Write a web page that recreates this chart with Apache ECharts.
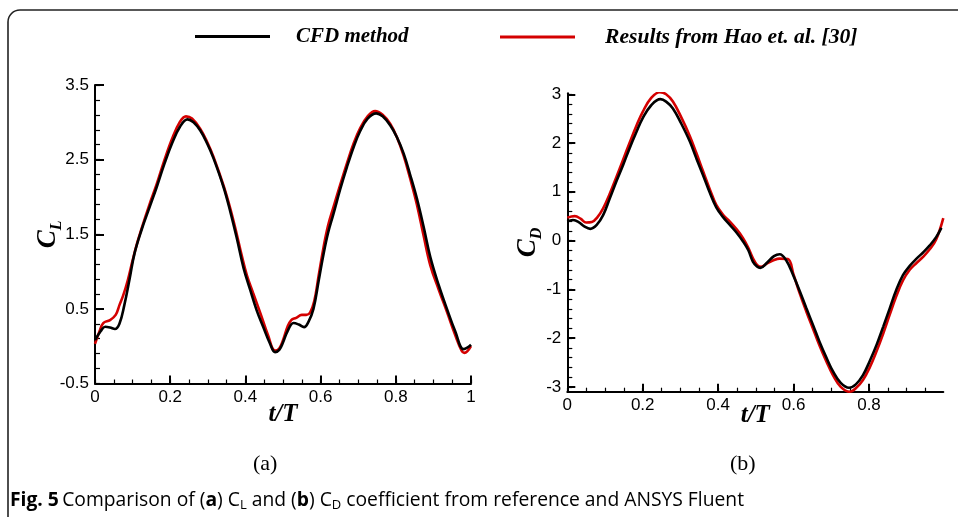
<!DOCTYPE html>
<html><head><meta charset="utf-8">
<script src="https://cdn.jsdelivr.net/npm/echarts@6/dist/echarts.min.js"></script>
<style>html,body{margin:0;padding:0;background:#fff}#c{width:958px;height:517px}</style>
</head><body><div id="c"></div>
<script>
// ---- data: [t/T, value] ----
const clCFD = [[0,0.08],[0.015,0.2],[0.027,0.26],[0.04,0.25],[0.053,0.23],[0.065,0.3],[0.078,0.55],[0.092,0.9],[0.105,1.24],[0.124,1.56],[0.145,1.86],[0.164,2.13],[0.185,2.45],[0.205,2.72],[0.226,2.94],[0.246,3.04],[0.262,3.0],[0.28,2.89],[0.298,2.72],[0.315,2.52],[0.342,2.13],[0.36,1.8],[0.377,1.45],[0.395,1.05],[0.413,0.75],[0.43,0.48],[0.448,0.25],[0.465,0.04],[0.479,-0.08],[0.49,-0.05],[0.5,0.05],[0.512,0.2],[0.528,0.31],[0.542,0.29],[0.556,0.255],[0.568,0.33],[0.581,0.5],[0.595,0.88],[0.608,1.24],[0.62,1.52],[0.634,1.77],[0.652,2.1],[0.67,2.4],[0.688,2.67],[0.705,2.88],[0.725,3.05],[0.748,3.12],[0.765,3.08],[0.785,2.96],[0.803,2.8],[0.821,2.58],[0.838,2.3],[0.856,1.98],[0.874,1.6],[0.892,1.19],[0.914,0.82],[0.936,0.5],[0.958,0.2],[0.98,-0.04],[0.99,-0.02],[1.0,0.02]];
const clHao = [[0,0.03],[0.012,0.2],[0.022,0.31],[0.04,0.35],[0.055,0.42],[0.065,0.55],[0.075,0.68],[0.087,0.88],[0.1,1.15],[0.112,1.38],[0.124,1.58],[0.145,1.9],[0.164,2.17],[0.185,2.5],[0.205,2.78],[0.225,3.0],[0.242,3.08],[0.258,3.05],[0.28,2.91],[0.298,2.74],[0.315,2.54],[0.342,2.15],[0.36,1.84],[0.377,1.5],[0.39,1.22],[0.404,0.95],[0.42,0.72],[0.44,0.44],[0.46,0.15],[0.479,-0.06],[0.49,-0.03],[0.5,0.08],[0.512,0.26],[0.522,0.35],[0.535,0.38],[0.55,0.42],[0.562,0.42],[0.572,0.45],[0.583,0.6],[0.595,0.95],[0.608,1.33],[0.62,1.62],[0.634,1.86],[0.652,2.16],[0.67,2.45],[0.688,2.72],[0.705,2.92],[0.725,3.08],[0.745,3.15],[0.765,3.1],[0.785,2.98],[0.803,2.8],[0.821,2.55],[0.838,2.25],[0.856,1.9],[0.874,1.48],[0.892,1.08],[0.914,0.76],[0.936,0.46],[0.958,0.15],[0.975,-0.06],[0.982,-0.09],[0.99,-0.07],[1.0,0.0]];
const cdCFD = [[0,0.39],[0.015,0.42],[0.03,0.38],[0.045,0.29],[0.061,0.24],[0.078,0.32],[0.095,0.52],[0.112,0.85],[0.13,1.21],[0.148,1.55],[0.165,1.89],[0.183,2.22],[0.2,2.51],[0.222,2.77],[0.247,2.9],[0.262,2.85],[0.28,2.71],[0.302,2.4],[0.325,2.03],[0.342,1.69],[0.36,1.34],[0.378,0.98],[0.395,0.68],[0.413,0.48],[0.431,0.32],[0.448,0.17],[0.466,-0.02],[0.48,-0.2],[0.492,-0.43],[0.503,-0.53],[0.512,-0.56],[0.53,-0.45],[0.548,-0.32],[0.563,-0.28],[0.58,-0.4],[0.599,-0.71],[0.617,-1.05],[0.634,-1.39],[0.652,-1.74],[0.669,-2.08],[0.687,-2.4],[0.705,-2.69],[0.725,-2.92],[0.747,-3.02],[0.765,-2.95],[0.784,-2.76],[0.802,-2.47],[0.82,-2.14],[0.838,-1.76],[0.855,-1.39],[0.872,-1.02],[0.89,-0.71],[0.908,-0.52],[0.926,-0.37],[0.944,-0.24],[0.961,-0.1],[0.978,0.07],[0.992,0.26]];
const cdHao = [[0,0.47],[0.02,0.5],[0.035,0.45],[0.05,0.37],[0.065,0.38],[0.08,0.48],[0.095,0.66],[0.112,0.95],[0.13,1.3],[0.148,1.66],[0.165,2.0],[0.183,2.35],[0.2,2.64],[0.222,2.92],[0.245,3.04],[0.262,3.0],[0.28,2.85],[0.302,2.53],[0.325,2.14],[0.342,1.8],[0.36,1.42],[0.378,1.05],[0.395,0.73],[0.413,0.53],[0.431,0.39],[0.448,0.24],[0.466,0.05],[0.48,-0.15],[0.492,-0.36],[0.503,-0.5],[0.514,-0.54],[0.53,-0.47],[0.548,-0.4],[0.563,-0.37],[0.585,-0.38],[0.6,-0.7],[0.617,-1.1],[0.634,-1.46],[0.652,-1.82],[0.669,-2.16],[0.687,-2.48],[0.705,-2.77],[0.725,-3.0],[0.749,-3.1],[0.765,-3.03],[0.784,-2.86],[0.802,-2.6],[0.82,-2.27],[0.838,-1.9],[0.855,-1.52],[0.872,-1.15],[0.89,-0.82],[0.908,-0.6],[0.926,-0.46],[0.944,-0.33],[0.961,-0.18],[0.978,0.02],[0.997,0.46]];

// ---- tick labels ----
const xTicksA = [0,0.2,0.4,0.6,0.8,1];
const yTicksA = [-0.5,0.5,1.5,2.5,3.5];
const xTicksB = [0,0.2,0.4,0.6,0.8];
const yTicksB = [-3,-2,-1,0,1,2,3];
const seriesNames = ['CFD method','Results from Hao et. al. [30]'];

function steps(a,b,s){const r=[];for(let i=0;a+i*s<=b+1e-9;i++)r.push(+(a+i*s).toFixed(4));return r;}
const xMinorA = steps(0,1,0.05), yMinorA = steps(-0.5,3.5,0.2);
const xMinorB = steps(0,0.95,0.05), yMinorB = steps(-3,3,0.2);

const BLACK='#000', RED='#d40000';
const labelFont = {fontFamily:'Liberation Sans, Arial, sans-serif', fontSize:17, color:'#000'};
const serif = 'Liberation Serif, Times New Roman, serif';
const nameRich = {
  c:{fontFamily:serif, fontWeight:'bold', fontStyle:'italic', fontSize:27, color:'#000'},
  s:{fontFamily:serif, fontWeight:'bold', fontStyle:'italic', fontSize:16, color:'#000', padding:[18,0,0,0]}
};
function mainX(grid,min,max,ticks,gap){return {type:'value',gridIndex:grid,min,max,position:'bottom',
  axisLine:{show:true,onZero:false,lineStyle:{color:'#000',width:2}}, splitLine:{show:false},
  axisTick:{show:false},
  axisLabel:Object.assign({customValues:ticks,margin:5},labelFont),
  name:'t/T', nameLocation:'middle', nameGap:gap, nameMoveOverlap:false,
  nameTextStyle:{fontFamily:serif,fontWeight:'bold',fontStyle:'italic',fontSize:25,color:'#000'}};}
function mainY(grid,min,max,ticks,sub,gap){return {type:'value',gridIndex:grid,min,max,position:'left',
  axisLine:{show:true,onZero:false,lineStyle:{color:'#000',width:2}}, splitLine:{show:false},
  axisTick:{show:false},
  axisLabel:Object.assign({customValues:ticks,margin:6},labelFont),
  name:'{c|C}{s|'+sub+'}', nameLocation:'middle', nameRotate:90, nameGap:gap, nameMoveOverlap:false,
  nameTextStyle:{rich:nameRich}};}
// tick-only axes
function tickAx(grid,pos,min,max,ticks,len,w){return {type:'value',gridIndex:grid,min,max,position:pos,
  axisLine:{show:false,onZero:false}, splitLine:{show:false}, axisLabel:{show:false},
  axisTick:{show:true,inside:true,length:len,customValues:ticks,lineStyle:{color:'#000',width:w}}};}

function line(name,data,xi,yi,color,z){return {name,type:'line',data,xAxisIndex:xi,yAxisIndex:yi,
  symbol:'none',showSymbol:false,smooth:0.4,z,lineStyle:{color,width:2.6},itemStyle:{color}};}

const legendIcon = 'path://M0,0H75V3H0Z';
const legendText = (pad,fs) => ({rich:{a:{fontFamily:serif,fontWeight:'bold',fontStyle:'italic',fontSize:fs,color:'#000',padding:[0,0,0,pad]}}});

const chart = echarts.init(document.getElementById('c'),null,{renderer:'canvas'});
chart.setOption({
  backgroundColor:'#fff',
  animation:false,
  grid:[
    {left:95, top:85, width:376, height:298.5},
    {left:567.3, top:93.3, width:376, height:298.4}
  ],
  xAxis:[
    mainX(0,0,1,xTicksA,19),
    tickAx(0,'bottom',0,1,xTicksA,8,2),
    tickAx(0,'bottom',0,1,xMinorA,4,1.2),
    mainX(1,0,0.997,xTicksB,11),
    tickAx(1,'bottom',0,0.997,xTicksB,8,2),
    tickAx(1,'bottom',0,0.997,xMinorB,4,1.2)
  ],
  yAxis:[
    mainY(0,-0.5,3.5,yTicksA,'L',30),
    tickAx(0,'left',-0.5,3.5,yTicksA,9,2),
    tickAx(0,'left',-0.5,3.5,yMinorA,5,1.2),
    mainY(1,-3.1,3.02,yTicksB,'D',22),
    tickAx(1,'left',-3.1,3.02,yTicksB,8,2),
    tickAx(1,'left',-3.1,3.02,yMinorB,5,1.2)
  ],
  legend:[
    {data:[seriesNames[0]], icon:legendIcon, left:190, top:21, itemWidth:75, itemHeight:3, itemGap:0,
     formatter:'{a|{name}}', textStyle:legendText(21,21)},
    {data:[seriesNames[1]], icon:legendIcon, left:495, top:21, itemWidth:75, itemHeight:3, itemGap:0,
     formatter:'{a|{name}}', textStyle:legendText(25,21.6)}
  ],
  series:[
    line(seriesNames[1],clHao,0,0,RED,2), line(seriesNames[0],clCFD,0,0,BLACK,3),
    line(seriesNames[1],cdHao,3,3,RED,2), line(seriesNames[0],cdCFD,3,3,BLACK,3)
  ],
  graphic:[
    {type:'rect', shape:{x:8,y:10,width:1000,height:600,r:12}, style:{fill:'none',stroke:'#222',lineWidth:1.6}, z:-1},
    {type:'text', left:253, top:453, style:{text:'(a)', font:'22px '+serif, fill:'#000'}},
    {type:'text', left:730, top:453, style:{text:'(b)', font:'22px '+serif, fill:'#000'}},
    {type:'text', left:10, top:491, style:{
      text:'{b|Fig. 5} {n|Comparison of (}{b|a}{n|) C}{s|L}{n| and (}{b|b}{n|) C}{s|D}{n| coefficient from reference and ANSYS Fluent}',
      rich:{
        b:{fontFamily:'Open Sans, sans-serif',fontWeight:'bold',fontSize:19.3,fill:'#000'},
        n:{fontFamily:'Open Sans, sans-serif',fontSize:19.3,fill:'#000'},
        s:{fontFamily:'Open Sans, sans-serif',fontSize:13,fill:'#000',padding:[10,0,0,0]}
      }}}
  ]
});
</script></body></html>
